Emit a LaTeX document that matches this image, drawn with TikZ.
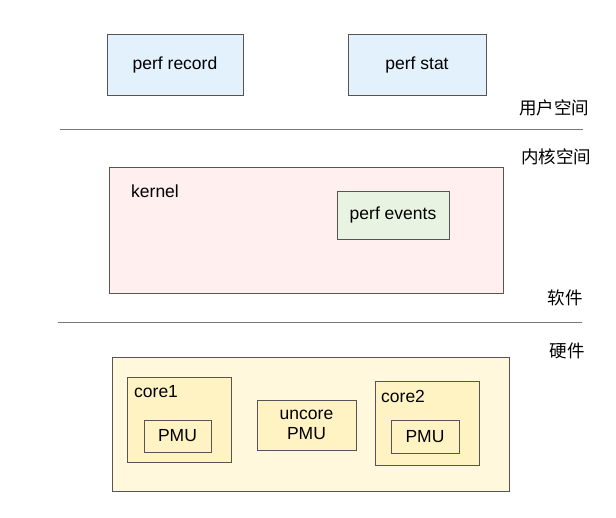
\documentclass[tikz,border=0pt]{standalone}
\usepackage{fontspec}
\setmainfont{Liberation Sans}
\newfontfamily\cjk{Noto Sans CJK SC}
\definecolor{userfill}{HTML}{E3F1FD}
\definecolor{kernelfill}{HTML}{FFEFEF}
\definecolor{eventfill}{HTML}{E8F3E2}
\definecolor{hwfill}{HTML}{FFF8DC}
\definecolor{corefill}{HTML}{FFF3C4}
\definecolor{edge}{HTML}{555555}

\begin{document}
\begin{tikzpicture} [
       x=1pt, y=-1pt,
       box/.style={draw=edge, line width=1pt, inner sep=0pt,
               font=\fontsize{17.5}{20}\selectfont},
       userbox/.style={box, fill=userfill},
       kernelbox/.style={box, fill=kernelfill},
       eventbox/.style={box, fill=eventfill},
       hwbox/.style={box, fill=hwfill},
       corebox/.style={box, fill=corefill},
       texte/.style={inner sep=0pt, font=\fontsize{17.5}{20}\selectfont},
       layer/.style={inner sep=0pt, font=\cjk\fontsize{17.5}{20}\selectfont},
       sep/.style={draw=edge!80, line width=0.8pt},
       ]
       \useasboundingbox (0,0) rectangle (616,517);
       % user space
       \node (record) [userbox, minimum width=136pt, minimum height=61pt] at (175,65) {perf record};
       \node (stat) [userbox, minimum width=138pt, minimum height=61pt] at (417,65) {perf stat};
       \node (user) [layer] at (554,108) {用户空间};
       \coordinate (sepa) at (60,129);
       \coordinate (sepb) at (583,129);
       \path[sep] (sepa) -- (sepb);
       % kernel space
       \node (kspace) [layer] at (556,157) {内核空间};
       \node (kernel) [kernelbox, minimum width=394pt, minimum height=126pt] at (306,230) {};
       \node (kernellabel) [texte, anchor=west] at (131,191) {kernel};
       \node (events) [eventbox, minimum width=112pt, minimum height=48pt] at (393,215) {perf events};
       \node (soft) [layer] at (565,298) {软件};
       \coordinate (sepc) at (58,322);
       \coordinate (sepd) at (582,322);
       \path[sep] (sepc) -- (sepd);
       % hardware
       \node (hard) [layer] at (567,351) {硬件};
       \node (hw) [hwbox, minimum width=397pt, minimum height=134pt] at (310.5,424) {};
       \node (core1) [corebox, minimum width=104pt, minimum height=85pt] at (179,419.5) {};
       \node (core1label) [texte, anchor=west] at (134,392) {core1};
       \node (pmu1) [corebox, minimum width=67pt, minimum height=32pt] at (177.5,436) {PMU};
       \node (uncore) [corebox, minimum width=99pt, minimum height=50pt,
               align=center] at (306.5,425) {uncore\\PMU};
       \node (core2) [corebox, minimum width=104pt, minimum height=84pt] at (427,423) {};
       \node (core2label) [texte, anchor=west] at (381,396) {core2};
       \node (pmu2) [corebox, minimum width=68pt, minimum height=33pt] at (425,436.5) {PMU};
\end{tikzpicture}
\end{document}
